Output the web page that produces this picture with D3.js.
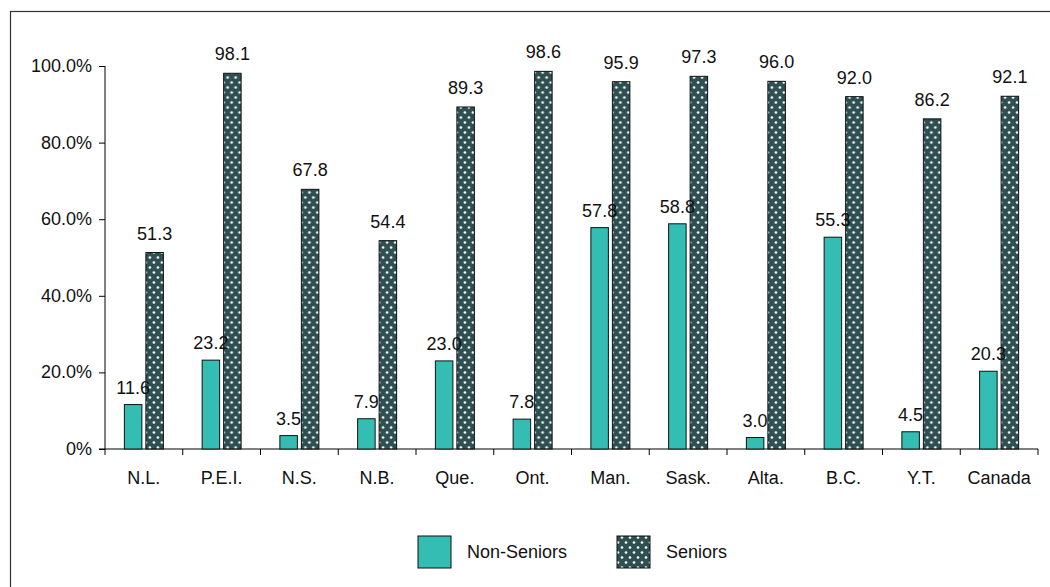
<!DOCTYPE html>
<html>
<head>
<meta charset="utf-8">
<script src="https://cdn.jsdelivr.net/npm/d3@7"></script>
<style>
  html, body { margin: 0; padding: 0; background: #fff; }
  svg { display: block; font-family: "Liberation Sans", Arial, sans-serif; }
</style>
</head>
<body>
<svg id="chart" width="1050" height="587"></svg>
<script>
// Data
const provinces = ['N.L.', 'P.E.I.', 'N.S.', 'N.B.', 'Que.', 'Ont.', 'Man.', 'Sask.', 'Alta.', 'B.C.', 'Y.T.', 'Canada'];
const nonSeniors = [11.6, 23.2, 3.5, 7.9, 23.0, 7.8, 57.8, 58.8, 3.0, 55.3, 4.5, 20.3];
const seniors = [51.3, 98.1, 67.8, 54.4, 89.3, 98.6, 95.9, 97.3, 96.0, 92.0, 86.2, 92.1];
const yTicks = [0, 20, 40, 60, 80, 100];
const seriesNames = ['Non-Seniors', 'Seniors'];

const TEAL = '#34bdb3';
const SLATE = '#2f5052';
const FS = 18;   // font size

const svg = d3.select('#chart');

function label(parent, tx, ty, str, anchor) {
  return parent.append('text')
    .attr('x', tx).attr('y', ty)
    .attr('text-anchor', anchor || 'middle')
    .attr('fill', '#111')
    .style('font-size', FS + 'px')
    .text(str);
}

// pattern for the Seniors bars
const defs = svg.append('defs');
const pat = defs.append('pattern')
  .attr('id', 'dots')
  .attr('patternUnits', 'userSpaceOnUse')
  .attr('width', 8)
  .attr('height', 10);
pat.append('rect').attr('width', 8).attr('height', 10).attr('fill', SLATE);
pat.append('circle').attr('cx', 2).attr('cy', 2.5).attr('r', 1.3).attr('fill', '#fff');
pat.append('circle').attr('cx', 6).attr('cy', 7.5).attr('r', 1.3).attr('fill', '#fff');

// outer frame (only top/left visible)
svg.append('rect')
  .attr('x', 10.5).attr('y', 11.5)
  .attr('width', 1100).attr('height', 700)
  .attr('fill', 'none')
  .attr('stroke', '#333')
  .attr('stroke-width', 1.2);

const x0 = 105, x1 = 1038, yTop = 66, yBot = 449;

const x = d3.scaleBand().domain(provinces).range([x0, x1]);
const y = d3.scaleLinear().domain([0, 100]).range([yBot, yTop]);

const barW = 17.5, gap = 4;

// y axis
const yAxis = d3.axisLeft(y)
  .tickValues(yTicks)
  .tickSize(6)
  .tickFormat('');
const gy = svg.append('g').attr('transform', `translate(${x0},0)`).call(yAxis);
gy.select('.domain').attr('d', `M0,${yTop}V${yBot + 6}`).attr('stroke', '#000');
gy.selectAll('.tick line').attr('stroke', '#000');
yTicks.forEach(t => {
  label(svg, x0 - 13, y(t) + 6, t === 0 ? '0%' : t.toFixed(1) + '%', 'end');
});

// x axis line and boundary ticks
const gx = svg.append('g');
gx.append('line')
  .attr('x1', x0 - 6).attr('x2', x1)
  .attr('y1', yBot).attr('y2', yBot)
  .attr('stroke', '#000');
const bounds = provinces.map(p => x(p)).concat([x1]);
gx.selectAll('line.bt').data(bounds.slice(1)).enter().append('line')
  .attr('class', 'bt')
  .attr('x1', d => d).attr('x2', d => d)
  .attr('y1', yBot).attr('y2', yBot + 6)
  .attr('stroke', '#000');
provinces.forEach(p => label(gx, x(p) + x.bandwidth() / 2, 484, p));

// bars
const groups = svg.append('g').selectAll('g').data(provinces).enter().append('g')
  .attr('transform', d => `translate(${x(d) + x.bandwidth() / 2},0)`);

groups.append('rect')
  .attr('x', -gap / 2 - barW)
  .attr('y', (d, i) => y(nonSeniors[i]))
  .attr('width', barW)
  .attr('height', (d, i) => yBot - y(nonSeniors[i]))
  .attr('fill', TEAL)
  .attr('stroke', '#111')
  .attr('stroke-width', 1);

groups.append('rect')
  .attr('x', gap / 2)
  .attr('y', (d, i) => y(seniors[i]))
  .attr('width', barW)
  .attr('height', (d, i) => yBot - y(seniors[i]))
  .attr('fill', 'url(#dots)')
  .attr('stroke', '#111')
  .attr('stroke-width', 1);

// value labels
groups.each(function(d, i) {
  const g = d3.select(this);
  label(g, -gap / 2 - barW / 2, y(nonSeniors[i]) - 11, nonSeniors[i].toFixed(1));
  label(g, gap / 2 + barW / 2, y(seniors[i]) - 13, seniors[i].toFixed(1));
});

// legend
const legend = svg.append('g');
const legX = [418, 617];
const legFill = [TEAL, 'url(#dots)'];
seriesNames.forEach((name, i) => {
  legend.append('rect')
    .attr('x', legX[i]).attr('y', 536)
    .attr('width', 33).attr('height', 32)
    .attr('fill', legFill[i])
    .attr('stroke', '#111');
  label(legend, legX[i] + 49, 558, name, 'start');
});
</script>
</body>
</html>
